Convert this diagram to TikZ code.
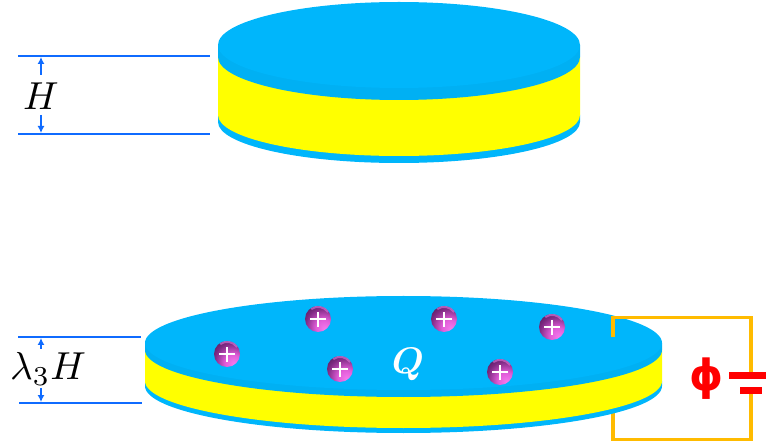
\documentclass[tikz,border=0pt]{standalone}
\usepackage{amsmath,amssymb,fontspec}
\newfontfamily\phifont{DejaVu Sans}
\usetikzlibrary{arrows.meta,calc}
\definecolor{diskblue}{HTML}{00B6FB}
\definecolor{rimblue}{HTML}{00B0F3}
\definecolor{diskyellow}{HTML}{FFFF00}
\definecolor{guide}{HTML}{0F6BFF}
\definecolor{wire}{HTML}{FFBB00}
\definecolor{ballhi}{HTML}{F67CEE}
\definecolor{ballb}{HTML}{E05CD8}
\definecolor{ballm}{HTML}{7E2A82}
\definecolor{balld}{HTML}{3A0E44}
\definecolor{ballrim}{HTML}{D070D0}
\pgfdeclareradialshading{ionball}{\pgfpoint{14bp}{-20bp}}{
 color(0bp)=(ballhi); color(16bp)=(ballb); color(34bp)=(ballm); color(52bp)=(balld); color(100bp)=(balld)}
\tikzset{
  guideline/.style={draw=guide,line width=1.3pt},
  dimarrow/.style={draw=guide,line width=1.3pt,-{Latex[length=7pt,width=7pt]}},
  wireline/.style={draw=wire,line width=3.5pt,line join=miter,line cap=butt},
  plate/.style={fill=red,draw=none},
  ion/.style={circle,minimum size=26pt,inner sep=0pt,shading=ionball,text=white},
  txt/.style={inner sep=0pt,text=black},
}
% cx, rx, ry top, top cy, rim cy, yellow cy, bottom cy, ry bottom
\newcommand{\disk}[8]{%
  \fill[diskblue] (#1-#2,#6) -- (#1-#2,#7) arc[start angle=180,end angle=0,x radius=#2,y radius=#8] -- (#1+#2,#6) -- cycle;
  \fill[diskyellow] (#1-#2,#5) -- (#1-#2,#6) arc[start angle=180,end angle=0,x radius=#2,y radius=#8] -- (#1+#2,#5) -- cycle;
  \fill[rimblue] (#1-#2,#4) -- (#1-#2,#5) arc[start angle=180,end angle=0,x radius=#2,y radius=#3] -- (#1+#2,#4) -- cycle;
  \fill[diskblue] (#1,#4) ellipse[x radius=#2,y radius=#3];
}
\newcommand{\ionplus}[3]{%
  \node[ion] (#1) at (#2,#3) {};
  \draw[ballrim,line width=2pt,opacity=.7] ($(#1)+(10,-7)$) arc[start angle=35,end angle=125,radius=12pt];
  \draw[white,line width=2pt] ($(#1)+(-8,0.5)$) -- ($(#1)+(8,0.5)$) ($(#1)+(0,-7)$) -- ($(#1)+(0,8)$);
}
\begin{document}
\begin{tikzpicture}[x=1pt,y=-1pt]
\useasboundingbox (0,0) rectangle (766,446);
\coordinate (wa) at (613,337);
\coordinate (wb) at (613,317.5);
\coordinate (wc) at (751,317.5);
\coordinate (wd) at (751,372);
\coordinate (we) at (751,394);
\coordinate (wf) at (751,439.5);
\coordinate (wg) at (613,439.5);
\coordinate (wh) at (613,400);
\draw[wireline] (we) -- (wf) -- (wg) -- (wh);
\disk{399}{181}{43}{45}{57}{115}{122}{41}
\disk{403.5}{258.5}{47}{343}{350}{381}{386}{47}
\draw[wireline] (wa) -- (wb) -- (wc) -- (wd);
\fill[plate] (729,372) rectangle (766,379);
\fill[plate] (740,387) rectangle (762,394);
\node[txt,text=red,font=\phifont\bfseries,scale=4.3] (phi) at (707,379) {ϕ};
\coordinate (h1l) at (18,56); \coordinate (h1r) at (210,56);
\coordinate (h2l) at (18,134); \coordinate (h2r) at (210,134);
\coordinate (h1a) at (41,75); \coordinate (h1t) at (41,57);
\coordinate (h2a) at (41,115); \coordinate (h2t) at (41,133);
\draw[guideline] (h1l) -- (h1r);
\draw[guideline] (h2l) -- (h2r);
\draw[dimarrow] (h1a) -- (h1t);
\draw[dimarrow] (h2a) -- (h2t);
\node[txt,scale=3.9] (hlab) at (41,96) {$H$};
\coordinate (l1l) at (18,337); \coordinate (l1r) at (141,337);
\coordinate (l2l) at (19,403); \coordinate (l2r) at (142,403);
\coordinate (l1a) at (41,349); \coordinate (l1t) at (41,338);
\coordinate (l2a) at (41,388); \coordinate (l2t) at (41,402);
\draw[guideline] (l1l) -- (l1r);
\draw[guideline] (l2l) -- (l2r);
\draw[dimarrow] (l1a) -- (l1t);
\draw[dimarrow] (l2a) -- (l2t);
\node[txt,scale=3.9] (llab) at (48,369) {$\lambda_3 H$};
\ionplus{i1}{227}{354}
\ionplus{i2}{318}{319}
\ionplus{i3}{340}{369}
\ionplus{i4}{444}{319}
\ionplus{i5}{500}{372}
\ionplus{i6}{552}{327}
\node[txt,text=white,scale=3.7] (qlab) at (408,364) {\usefont{OML}{cmm}{b}{it}Q};
\end{tikzpicture}
\end{document}
